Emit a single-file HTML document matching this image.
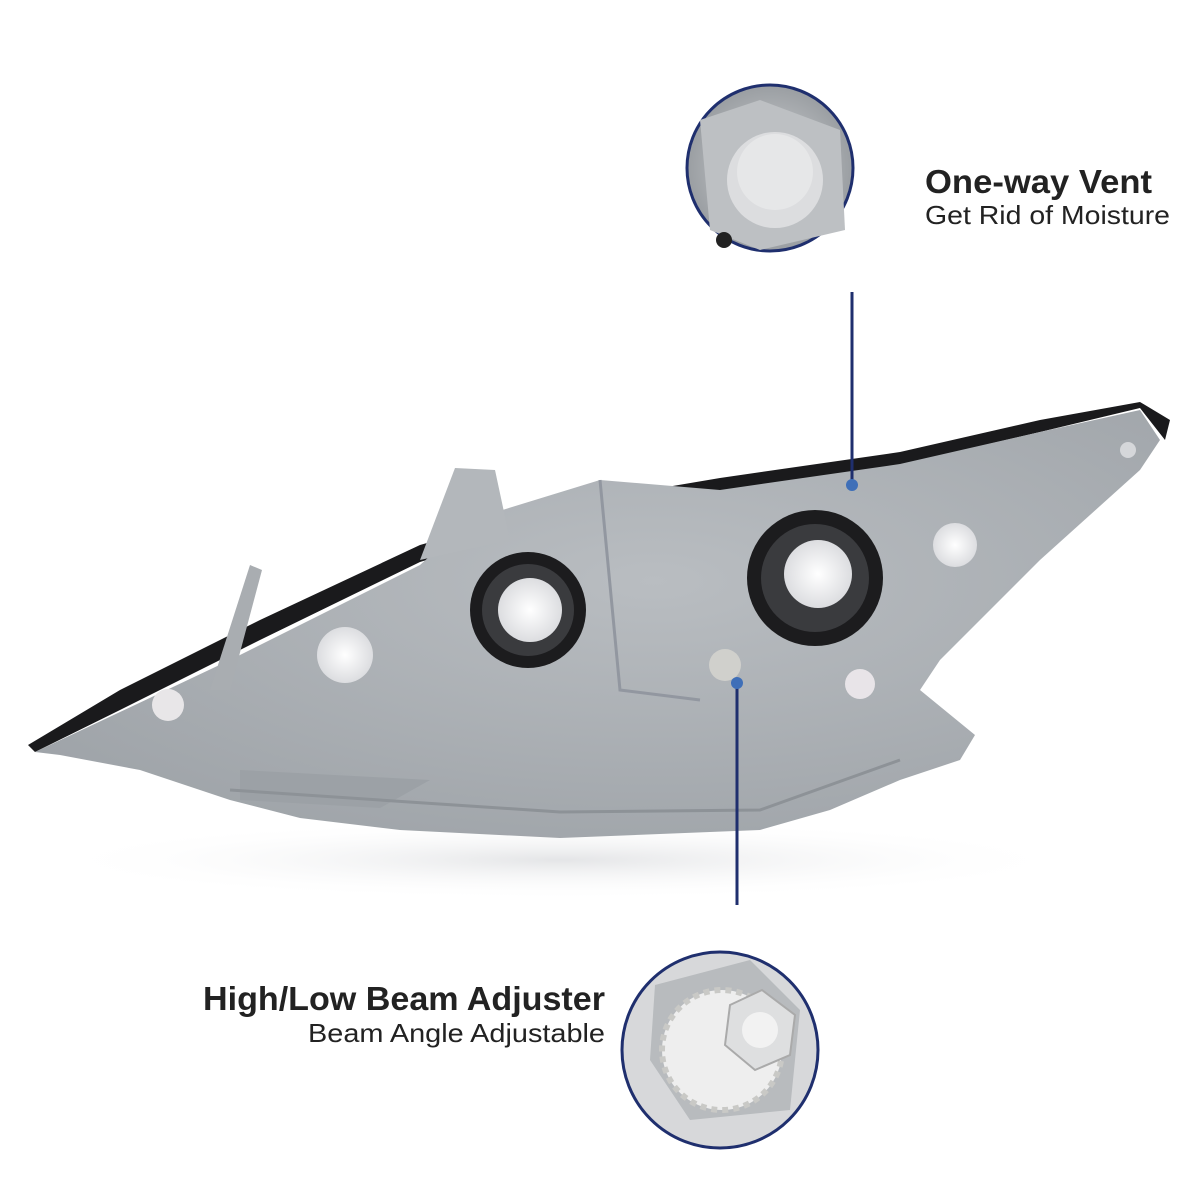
<!DOCTYPE html>
<html><head><meta charset="utf-8"><style>
html,body{margin:0;padding:0;background:#fff;}
svg{display:block}
text{font-family:"Liberation Sans","DejaVu Sans",sans-serif;}
</style></head><body>
<svg width="1200" height="1200" viewBox="0 0 1200 1200" xmlns="http://www.w3.org/2000/svg">
<defs>
<radialGradient id="body" cx="0.55" cy="0.4" r="0.7">
<stop offset="0" stop-color="#b9bdc1"/><stop offset="1" stop-color="#9ea3a8"/></radialGradient>
<radialGradient id="shadow" cx="0.5" cy="0.5" r="0.5">
<stop offset="0" stop-color="#e4e5e7"/><stop offset="1" stop-color="#fff" stop-opacity="0"/></radialGradient>
<radialGradient id="c1" cx="0.5" cy="0.5" r="0.5">
<stop offset="0" stop-color="#d2d4d6"/><stop offset="1" stop-color="#9a9ea2"/></radialGradient>
<radialGradient id="white" cx="0.5" cy="0.5" r="0.5">
<stop offset="0" stop-color="#ffffff"/><stop offset="1" stop-color="#dcdde0"/></radialGradient>
</defs>
<ellipse cx="560" cy="860" rx="520" ry="40" fill="url(#shadow)"/>
<path d="M28,745 L120,690 L260,620 L420,545 L560,505 L720,478 L900,452 L1040,420 L1140,402 L1170,420 L1165,440 L1140,408 L1040,432 L900,465 L720,492 L560,520 L420,562 L260,640 L120,710 L35,752 Z" fill="#1a1a1c"/>
<path d="M35,752 L120,712 L230,660 L420,565 L470,520 L600,480 L720,490 L900,464 L1040,432 L1140,410 L1160,440 L1140,470 L1040,560 L940,660 L920,690 L975,735 L960,760 L900,780 L830,810 L760,830 L560,838 L400,830 L300,818 L230,800 L140,770 L60,755 Z" fill="url(#body)"/>
<path d="M210,690 L250,565 L262,570 L230,690 Z" fill="#a9adb1"/>
<path d="M420,560 L455,468 L495,470 L510,540 Z" fill="#b3b7bb"/>
<path d="M430,780 L240,770 L240,800 L380,808 Z" fill="#9ca1a6"/>
<path d="M230,790 L560,812 L760,810 L900,760" stroke="#8d9297" stroke-width="3" fill="none"/>
<path d="M600,480 L620,690 L700,700" stroke="#9297a0" stroke-width="3" fill="none"/>
<circle cx="528" cy="610" r="58" fill="#1c1c1e"/>
<circle cx="528" cy="610" r="46" fill="#3a3b3e"/>
<circle cx="530" cy="610" r="32" fill="url(#white)"/>
<circle cx="815" cy="578" r="68" fill="#1c1c1e"/>
<circle cx="815" cy="578" r="54" fill="#3a3b3e"/>
<circle cx="818" cy="574" r="34" fill="url(#white)"/>
<circle cx="345" cy="655" r="28" fill="url(#white)"/>
<circle cx="955" cy="545" r="22" fill="url(#white)"/>
<circle cx="168" cy="705" r="16" fill="#e8e6e8"/>
<circle cx="860" cy="684" r="15" fill="#e8e4e8"/>
<circle cx="725" cy="665" r="16" fill="#d0d0cc"/>
<circle cx="1128" cy="450" r="8" fill="#d5d7da"/>
<line x1="852" y1="292" x2="852" y2="485" stroke="#1f2f6e" stroke-width="3"/>
<circle cx="852" cy="485" r="6" fill="#3f6fb8"/>
<line x1="737" y1="683" x2="737" y2="905" stroke="#1f2f6e" stroke-width="3"/>
<circle cx="737" cy="683" r="6" fill="#3f6fb8"/>
<circle cx="770" cy="168" r="83" fill="url(#c1)" stroke="#1f2f6e" stroke-width="3"/>
<path d="M700,120 L760,100 L840,130 L845,230 L760,250 L710,230 Z" fill="#bdc0c3"/>
<circle cx="775" cy="180" r="48" fill="#dcdddf"/>
<circle cx="775" cy="172" r="38" fill="#e6e7e8"/>
<circle cx="724" cy="240" r="8" fill="#222"/>
<circle cx="720" cy="1050" r="98" fill="#d7d8da" stroke="#1f2f6e" stroke-width="3"/>
<path d="M655,985 L750,960 L800,1010 L790,1110 L690,1120 L650,1060 Z" fill="#b8bbbe"/>
<circle cx="722" cy="1050" r="60" fill="#eeeeee" stroke="#c9c9c6" stroke-width="6" stroke-dasharray="6 5"/>
<polygon points="762,990 795,1015 790,1055 755,1070 725,1045 730,1005" fill="#dedfe0" stroke="#aaa" stroke-width="2"/>
<circle cx="760" cy="1030" r="18" fill="#f2f2f2"/>
<text x="925" y="193" font-size="33" font-weight="bold" fill="#222" textLength="227" lengthAdjust="spacingAndGlyphs">One-way Vent</text>
<text x="925" y="224" font-size="26" fill="#222" textLength="245" lengthAdjust="spacingAndGlyphs">Get Rid of Moisture</text>
<text x="203" y="1010" font-size="33" font-weight="bold" fill="#222" textLength="402" lengthAdjust="spacingAndGlyphs">High/Low Beam Adjuster</text>
<text x="308" y="1042" font-size="26" fill="#222" textLength="297" lengthAdjust="spacingAndGlyphs">Beam Angle Adjustable</text>
</svg>
</body></html>
